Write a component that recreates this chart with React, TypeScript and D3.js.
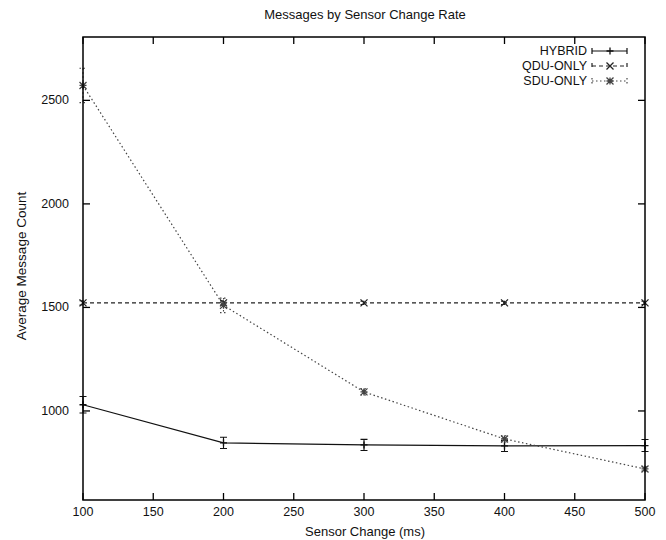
import React from "react";
import * as d3 from "d3";

const xValues = [100, 200, 300, 400, 500];
const hybrid = [1030, 846, 836, 831, 833];
const hybridErr = [40, 27, 27, 27, 29];
const qduOnly = [1522, 1522, 1522, 1522, 1522];
const qduErr = [10, 10, 8, 8, 8];
const sduOnly = [2572, 1510, 1092, 865, 720];
const sduErr = [83, 35, 15, 15, 10];
const xTicks = [100, 150, 200, 250, 300, 350, 400, 450, 500];
const yTicks = [1000, 1500, 2000, 2500];
const seriesNames = ["HYBRID", "QDU-ONLY", "SDU-ONLY"];

const W = 666;
const H = 540;
const left = 83;
const right = 645;
const top = 37;
const bottom = 500;
const FONT = "'Liberation Sans Narrow', 'Liberation Sans', Arial, sans-serif";

const x = d3.scaleLinear().domain([100, 500]).range([left, right]);
const y = d3.scaleLinear().domain([570, 2806]).range([bottom, top]);

type Series = { name: string; values: number[]; errs: number[]; dash: string; marker: string; color: string };

const series: Series[] = [
  { name: seriesNames[0], values: hybrid, errs: hybridErr, dash: "", marker: "plus", color: "#111" },
  { name: seriesNames[1], values: qduOnly, errs: qduErr, dash: "4,3", marker: "cross", color: "#222" },
  { name: seriesNames[2], values: sduOnly, errs: sduErr, dash: "1.5,2.5", marker: "star", color: "#444" },
];

const Marker = ({ type, cx, cy, color }: { type: string; cx: number; cy: number; color: string }) => {
  const s = 3.5;
  let d = "";
  if (type === "plus") d = `M${cx - s},${cy}H${cx + s}M${cx},${cy - s}V${cy + s}`;
  else if (type === "cross") d = `M${cx - s},${cy - s}L${cx + s},${cy + s}M${cx - s},${cy + s}L${cx + s},${cy - s}`;
  else
    d = `M${cx - s},${cy}H${cx + s}M${cx},${cy - s}V${cy + s}M${cx - s},${cy - s}L${cx + s},${cy + s}M${cx - s},${cy + s}L${cx + s},${cy - s}`;
  return <path d={d} stroke={color} strokeWidth={1.3} fill="none" />;
};

const App = () => {
  const line = d3
    .line<number>()
    .x((_, i) => x(xValues[i]))
    .y((v) => y(v));

  return (
    <div style={{ position: "absolute", left: 0, top: 0 }}>
      <svg width={W} height={H} style={{ display: "block", background: "#fff" }} fontFamily={FONT}>
        <text x={365} y={19} textAnchor="middle" fontSize={13} fill="#111">
          Messages by Sensor Change Rate
        </text>

        {/* series */}
        {series.map((s) => (
          <g key={s.name}>
            <path d={line(s.values) || ""} fill="none" stroke={s.color} strokeWidth={1.2} strokeDasharray={s.dash} />
            {s.values.map((v, i) => {
              const cx = x(xValues[i]);
              const y1 = y(v + s.errs[i]);
              const y2 = y(v - s.errs[i]);
              return (
                <g key={i}>
                  <path
                    d={`M${cx},${y1}V${y2}M${cx - 3.5},${y1}H${cx + 3.5}M${cx - 3.5},${y2}H${cx + 3.5}`}
                    stroke={s.color}
                    strokeWidth={1.1}
                    strokeDasharray={s.dash}
                    fill="none"
                  />
                  <Marker type={s.marker} cx={cx} cy={y(v)} color={s.color} />
                </g>
              );
            })}
          </g>
        ))}

        {/* frame */}
        <rect x={left} y={top} width={right - left} height={bottom - top} fill="none" stroke="#000" strokeWidth={1.5} />
        {xTicks.map((t) => (
          <g key={t}>
            <line x1={x(t)} x2={x(t)} y1={bottom} y2={bottom - 7} stroke="#000" strokeWidth={1.3} />
            <line x1={x(t)} x2={x(t)} y1={top} y2={top + 7} stroke="#000" strokeWidth={1.3} />
            <text x={x(t)} y={516} textAnchor="middle" fontSize={12.5} fill="#111">
              {t}
            </text>
          </g>
        ))}
        {yTicks.map((t) => (
          <g key={t}>
            <line x1={left} x2={left + 7} y1={y(t)} y2={y(t)} stroke="#000" strokeWidth={1.3} />
            <line x1={right} x2={right - 7} y1={y(t)} y2={y(t)} stroke="#000" strokeWidth={1.3} />
            <text x={69} y={y(t) + 4} textAnchor="end" fontSize={12.5} fill="#111">
              {t}
            </text>
          </g>
        ))}

        <text x={365} y={536} textAnchor="middle" fontSize={13} fill="#111">
          Sensor Change (ms)
        </text>
        <text transform="translate(26,266) rotate(-90)" textAnchor="middle" fontSize={13.5} fill="#111">
          Average Message Count
        </text>

        {/* legend */}
        {series.map((s, i) => {
          const ly = 51 + i * 15;
          return (
            <g key={s.name}>
              <text x={587} y={ly + 4} textAnchor="end" fontSize={12.5} fill="#111">
                {s.name}
              </text>
              <path
                d={`M592,${ly}H627M592,${ly - 3}V${ly + 3}M627,${ly - 3}V${ly + 3}`}
                stroke={s.color}
                strokeWidth={1.2}
                strokeDasharray={s.dash}
                fill="none"
              />
              <Marker type={s.marker} cx={610} cy={ly} color={s.color} />
            </g>
          );
        })}
      </svg>
    </div>
  );
};

export default App;
